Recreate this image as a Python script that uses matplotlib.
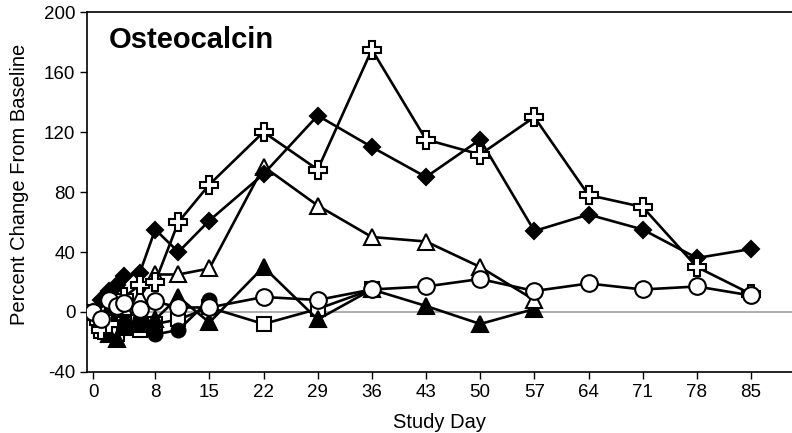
import matplotlib
matplotlib.use("Agg")
import matplotlib.pyplot as plt

plt.rcParams["font.family"] = ["Liberation Sans", "DejaVu Sans"]
plt.rcParams["axes.unicode_minus"] = False

# study days and percent change from baseline
days_open_circle = [0, 1, 2, 3, 4, 6, 8, 11, 15, 22, 29, 36, 43, 50, 57, 64, 71, 78, 85]
pct_open_circle = [0, -5, 8, 4, 6, 2, 7, 3, 3, 10, 8, 15, 17, 22, 14, 19, 15, 17, 11]

days_diamond = [0, 1, 2, 3, 4, 6, 8, 11, 15, 22, 29, 36, 43, 50, 57, 64, 71, 78, 85]
pct_diamond = [0, 8, 14, 18, 24, 26, 55, 40, 61, 92, 131, 110, 90, 115, 54, 65, 55, 36, 42]

days_cross = [0, 1, 2, 3, 4, 6, 8, 11, 15, 22, 29, 36, 43, 50, 57, 64, 71, 78, 85]
pct_cross = [-3, -12, -8, 5, 10, 18, 20, 60, 85, 120, 95, 175, 115, 105, 130, 78, 70, 30, 12]

days_open_tri = [0, 2, 4, 6, 8, 11, 15, 22, 29, 36, 43, 50, 57]
pct_open_tri = [0, -5, 3, 10, 25, 25, 29, 97, 71, 50, 47, 30, 8]

days_filled_tri = [0, 2, 3, 4, 6, 8, 11, 15, 22, 29, 36, 43, 50, 57]
pct_filled_tri = [0, -15, -18, -10, -8, -5, 10, -7, 30, -5, 15, 4, -8, 2]

days_square = [0, 1, 2, 3, 4, 6, 8, 11, 15, 22, 29, 36]
pct_square = [0, -13, -10, -15, -8, -12, -8, -5, 3, -8, 2, 15]

days_filled_circle = [0, 2, 4, 6, 8, 11, 15]
pct_filled_circle = [0, -3, -8, -5, -15, -12, 8]

xticks = [0, 8, 15, 22, 29, 36, 43, 50, 57, 64, 71, 78, 85]
yticks = [-40, 0, 40, 80, 120, 160, 200]


def main():
    fig = plt.figure(figsize=(7.92, 4.33), dpi=100)
    ax = fig.add_axes([0.110, 0.141, 0.890, 0.831])

    ax.axhline(0, color="#a0a0a0", linewidth=1.2, zorder=1)

    lw = 1.9
    common = dict(color="black", linewidth=lw, markeredgecolor="black",
                  markeredgewidth=1.5, zorder=3)
    ax.plot(days_square, pct_square, marker="s", markersize=9.5,
            markerfacecolor="white", **common)
    ax.plot(days_filled_tri, pct_filled_tri, marker="^", markersize=11.5,
            markerfacecolor="black", **common)
    ax.plot(days_filled_circle, pct_filled_circle, marker="o", markersize=10,
            markerfacecolor="black", **common)
    ax.plot(days_open_tri, pct_open_tri, marker="^", markersize=11.5,
            markerfacecolor="white", **common)
    ax.plot(days_diamond, pct_diamond, marker="D", markersize=8.5,
            markerfacecolor="black", **common)
    ax.plot(days_cross, pct_cross, marker="P", markersize=13.5,
            markerfacecolor="white", **common)
    ax.plot(days_open_circle, pct_open_circle, marker="o", markersize=12,
            markerfacecolor="white", **common)

    ax.set_xlim(-0.8, 90.3)
    ax.set_ylim(-40, 200)
    ax.set_xticks(xticks)
    ax.set_yticks(yticks)
    ax.tick_params(direction="out", length=5, width=1, labelsize=13.5,
                   colors="black")
    ax.spines["right"].set_visible(False)
    for s in ("left", "bottom", "top"):
        ax.spines[s].set_linewidth(1.2)

    ax.set_xlabel("Study Day", fontsize=14.5, labelpad=9)
    ax.set_ylabel("Percent Change From Baseline", fontsize=14.5)
    ax.yaxis.set_label_coords(-0.082, 0.52)
    ax.text(0.03, 0.962, "Osteocalcin", transform=ax.transAxes,
            fontsize=21, fontweight="bold", va="top", ha="left")

    fig.savefig("out.png", dpi=100)


if __name__ == "__main__":
    main()
